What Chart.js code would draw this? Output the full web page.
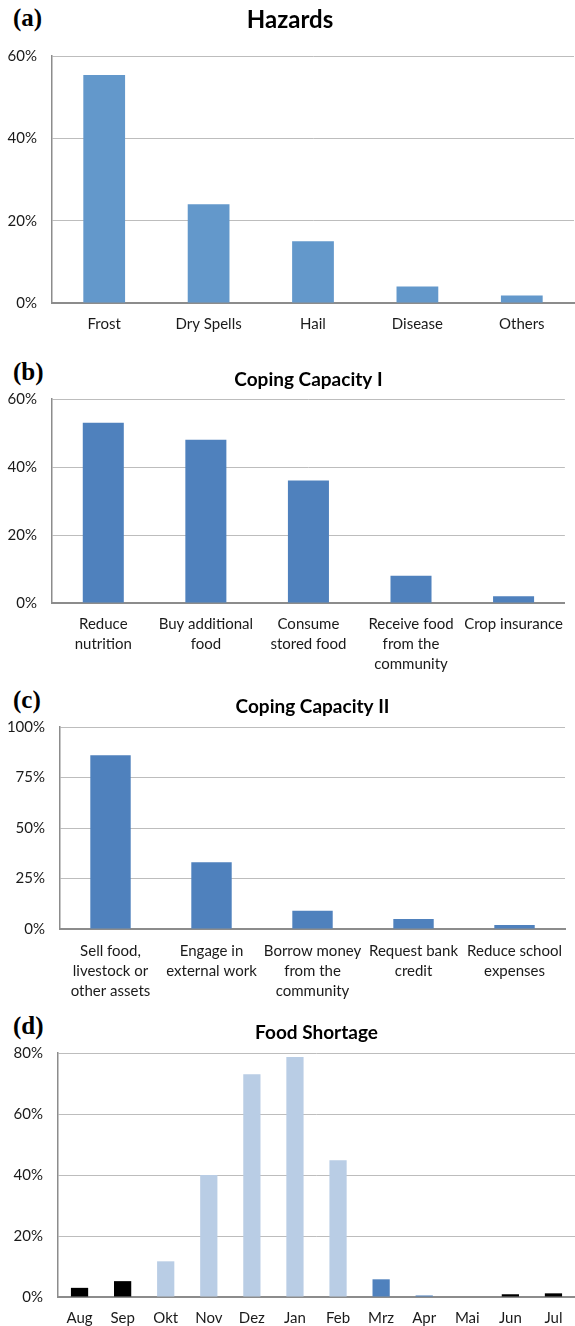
<!DOCTYPE html>
<html>
<head>
<meta charset="utf-8">
<script src="https://cdn.jsdelivr.net/npm/chart.js@4.4.1/dist/chart.umd.min.js"></script>
<style>
    body { margin: 0; background: #fff; }
    #page { position: relative; width: 575px; height: 1326px; overflow: hidden; }
    .panel { position: absolute; left: 0; width: 575px; }
    .tag { position: absolute; left: 13px; font-family: "Liberation Serif", "DejaVu Serif", serif; font-weight: bold; font-size: 25px; line-height: 25px; color: #000; }
</style>
</head>
<body>
<div id="page">
    <span class="tag" style="top:5px">(a)</span>
    <span class="tag" style="top:359px">(b)</span>
    <span class="tag" style="top:687px">(c)</span>
    <span class="tag" style="top:1013px">(d)</span>
    <canvas id="chartA" class="panel" style="top:0px" width="575" height="340"></canvas>
    <canvas id="chartB" class="panel" style="top:340px" width="575" height="340"></canvas>
    <canvas id="chartC" class="panel" style="top:680px" width="575" height="330"></canvas>
    <canvas id="chartD" class="panel" style="top:1000px" width="575" height="326"></canvas>
</div>
<script>
// (a) Hazards
const hazardLabels = ['Frost', 'Dry Spells', 'Hail', 'Disease', 'Others'];
const hazardValues = [55.4, 24, 15, 4, 1.8];

// (b) Coping Capacity I
const copingOneLabels = [['Reduce', 'nutrition'], ['Buy additional', 'food'], ['Consume', 'stored food'],
    ['Receive food', 'from the', 'community'], 'Crop insurance'];
const copingOneValues = [53, 48, 36, 8, 2];

// (c) Coping Capacity II
const copingTwoLabels = [['Sell food,', 'livestock or', 'other assets'], ['Engage in', 'external work'],
    ['Borrow money', 'from the', 'community'], ['Request bank', 'credit'], ['Reduce school', 'expenses']];
const copingTwoValues = [86, 33, 9, 5, 2];

// (d) Food Shortage
const months = ['Aug', 'Sep', 'Okt', 'Nov', 'Dez', 'Jan', 'Feb', 'Mrz', 'Apr', 'Mai', 'Jun', 'Jul'];
const shortageValues = [3, 5.2, 11.7, 40, 73, 78.7, 44.8, 5.8, 0.5, 0, 0.9, 1.2];
const shortageColors = ['#000000', '#000000', '#b9cde5', '#b9cde5', '#b9cde5', '#b9cde5', '#b9cde5',
    '#4f81bd', '#4f81bd', '#4f81bd', '#000000', '#000000'];

const tickFont = { family: 'Lato, "Open Sans", sans-serif', size: 15 };

// one panel: box = where the plot area sits inside its canvas
function makeChart(id, labels, values, colors, title, yMax, yStep, box) {
    const h = document.getElementById(id).height;
    const titleSize = box.titleSize;
    const lineH = titleSize * 1.2;
    const padTop = box.titleY - lineH / 2;
    return new Chart(document.getElementById(id), {
        type: 'bar',
        data: {
            labels: labels,
            datasets: [{
                data: values,
                backgroundColor: colors,
                borderWidth: 0,
                categoryPercentage: 1,
                barPercentage: 0.4
            }]
        },
        options: {
            responsive: false,
            devicePixelRatio: 1,
            animation: false,
            layout: { padding: { left: box.padLeft, right: 575 - box.right, top: 0, bottom: 0 } },
            plugins: {
                legend: { display: false },
                tooltip: { enabled: false },
                title: {
                    display: true,
                    fullSize: box.fullTitle,
                    text: title,
                    color: '#000',
                    font: { family: 'Lato, "Open Sans", sans-serif', size: titleSize, weight: 'bold', lineHeight: 1.2 },
                    padding: { top: padTop, bottom: box.top - padTop - lineH }
                }
            },
            scales: {
                x: {
                    grid: { display: false, drawTicks: false },
                    border: { display: true, color: '#8c8c8c', width: 2 },
                    ticks: {
                        color: '#1a1a1a', font: Object.assign({ lineHeight: 1.33 }, tickFont),
                        padding: box.xPad, maxRotation: 0, autoSkip: false
                    },
                    afterFit: function (scale) { scale.height = h - box.bottom; }
                },
                y: {
                    min: 0,
                    max: yMax,
                    grid: { color: '#bdbdbd', lineWidth: 1, drawTicks: false },
                    border: { display: true, color: '#8c8c8c', width: 1.5 },
                    ticks: {
                        stepSize: yStep, color: '#1a1a1a', font: tickFont, padding: 15,
                        callback: function (v) { return v + '%'; }
                    },
                    afterFit: function (scale) { scale.width = box.left - box.padLeft; }
                }
            }
        }
    });
}

makeChart('chartA', hazardLabels, hazardValues, '#6398cb', 'Hazards', 60, 20,
    { left: 52, right: 574, top: 56, bottom: 303, padLeft: 6, fullTitle: true, titleY: 20, titleSize: 24, xPad: 11 });
makeChart('chartB', copingOneLabels, copingOneValues, '#4f81bd', 'Coping Capacity I', 60, 20,
    { left: 52, right: 570, top: 59, bottom: 263, padLeft: 0, fullTitle: false, titleY: 40, titleSize: 19, xPad: 11 });
makeChart('chartC', copingTwoLabels, copingTwoValues, '#4f81bd', 'Coping Capacity II', 100, 25,
    { left: 60, right: 570, top: 47, bottom: 249, padLeft: 0, fullTitle: false, titleY: 27, titleSize: 19, xPad: 12 });
makeChart('chartD', months, shortageValues, shortageColors, 'Food Shortage', 80, 20,
    { left: 58, right: 575, top: 53, bottom: 297, padLeft: 0, fullTitle: false, titleY: 33, titleSize: 19, xPad: 11 });
</script>
</body>
</html>
